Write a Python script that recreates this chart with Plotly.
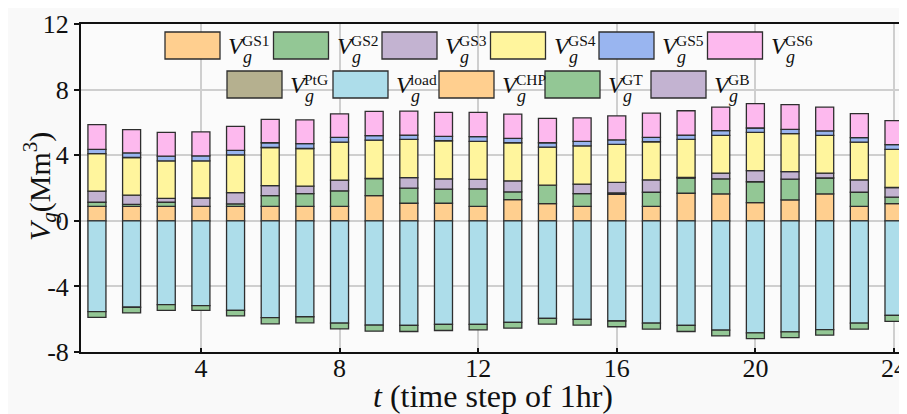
import plotly.graph_objects as go

t = list(range(1, 25))

GS1 = [0.88, 0.88, 0.88, 0.88, 0.88, 0.88, 0.88, 0.88, 1.54, 1.07, 1.07, 0.88,
       1.29, 1.05, 0.88, 1.62, 0.88, 1.68, 1.64, 1.11, 1.27, 1.64, 0.88, 1.05]
GS2 = [0.25, 0.12, 0.25, 0.0, 0.15, 0.66, 0.78, 0.95, 1.04, 0.92, 0.86, 1.07,
       0.47, 1.12, 0.78, 0.08, 0.86, 0.93, 0.92, 1.27, 1.27, 0.97, 0.86, 0.39]
GS3 = [0.68, 0.56, 0.24, 0.51, 0.69, 0.61, 0.45, 0.65, 0.0, 0.64, 0.63, 0.57,
       0.68, 0.0, 0.58, 0.64, 0.76, 0.04, 0.35, 0.68, 0.46, 0.30, 0.76, 0.59]
GS4 = [2.29, 2.30, 2.28, 2.26, 2.30, 2.32, 2.30, 2.32, 2.34, 2.33, 2.32, 2.32,
       2.32, 2.32, 2.33, 2.32, 2.32, 2.31, 2.30, 2.33, 2.31, 2.30, 2.30, 2.32]
GS5 = [0.25, 0.28, 0.29, 0.31, 0.27, 0.29, 0.29, 0.29, 0.27, 0.27, 0.27, 0.29,
       0.27, 0.27, 0.27, 0.28, 0.27, 0.27, 0.29, 0.27, 0.27, 0.27, 0.27, 0.29]
GS6 = [1.52, 1.42, 1.45, 1.46, 1.47, 1.43, 1.45, 1.43, 1.48, 1.46, 1.46, 1.48,
       1.47, 1.48, 1.44, 1.46, 1.47, 1.48, 1.43, 1.48, 1.50, 1.45, 1.47, 1.47]
PtG = [0.0] * 24
LOAD = [-5.54, -5.27, -5.11, -5.17, -5.46, -5.91, -5.85, -6.24, -6.36, -6.38, -6.32, -6.32,
        -6.19, -5.95, -6.01, -6.11, -6.24, -6.38, -6.67, -6.83, -6.77, -6.63, -6.24, -5.77]
CHP = [0.0] * 24
GT = [-0.35, -0.35, -0.35, -0.29, -0.34, -0.37, -0.37, -0.35, -0.37, -0.37, -0.37, -0.33,
      -0.35, -0.35, -0.35, -0.35, -0.37, -0.37, -0.35, -0.35, -0.35, -0.34, -0.37, -0.36]
GB = [0.0] * 24

x_ticks = [4, 8, 12, 16, 20, 24]
y_ticks = [-8, -4, 0, 4, 8, 12]

C_ORANGE = "#FFCF8F"
C_GREEN = "#93C795"
C_PURPLE = "#C3B3D1"
C_YELLOW = "#FFF59D"
C_BLUE = "#99B5F0"
C_PINK = "#FDB9EE"
C_OLIVE = "#B5B08F"
C_LBLUE = "#ADDDEA"

series = [
    ("GS1", GS1, C_ORANGE), ("GS2", GS2, C_GREEN), ("GS3", GS3, C_PURPLE),
    ("GS4", GS4, C_YELLOW), ("GS5", GS5, C_BLUE), ("GS6", GS6, C_PINK),
    ("PtG", PtG, C_OLIVE), ("load", LOAD, C_LBLUE), ("CHP", CHP, C_ORANGE),
    ("GT", GT, C_GREEN), ("GB", GB, C_PURPLE),
]

FONT = "Liberation Serif, Times New Roman, serif"
EDGE = "#2e2e2e"

fig = go.Figure()
for name, vals, col in series:
    fig.add_trace(go.Bar(
        x=t, y=[v if v != 0 else None for v in vals], name=name,
        width=0.52, marker=dict(color=col, line=dict(color=EDGE, width=1.3)),
        showlegend=False,
    ))

# page body has an 8px margin: the figure starts at (8, 8) in the window
OFF = 8
W, H = 907 - OFF, 414 - OFF
# plot-area edges, in window pixels
L, R, T, B = 81, 907, 24, 352


def px(xp):
    return (xp - L) / (R - L)


def py(yp):
    return (B - yp) / (B - T)


shapes = []
annotations = []
rows = [
    (series[0:6], 165, 108.5, 32),
    (series[6:11], 227, 106.0, 71),
]
for items, x0, step, ytop in rows:
    for i, (name, _, col) in enumerate(items):
        sx = x0 + step * i
        shapes.append(dict(type="rect", xref="paper", yref="paper",
                           x0=px(sx), x1=px(sx + 55), y0=py(ytop + 27), y1=py(ytop),
                           fillcolor=col, line=dict(color=EDGE, width=1.3), layer="above"))
        annotations.append(dict(xref="paper", yref="paper", x=px(sx + 61), y=py(ytop + 14),
                                text="<i>V</i>", showarrow=False, xanchor="left", yanchor="middle",
                                font=dict(family=FONT, size=24, color="#111")))
        annotations.append(dict(xref="paper", yref="paper", x=px(sx + 75), y=py(ytop + 8),
                                text=name, showarrow=False, xanchor="left", yanchor="middle",
                                font=dict(family=FONT, size=15.5, color="#111")))
        annotations.append(dict(xref="paper", yref="paper", x=px(sx + 76), y=py(ytop + 25),
                                text="<i>g</i>", showarrow=False, xanchor="left", yanchor="middle",
                                font=dict(family=FONT, size=18, color="#111")))

annotations.append(dict(xref="paper", yref="paper", x=px(39), y=py(187), textangle=-90,
                        text="<i>V</i><sub><i>g</i></sub>(Mm<sup>3</sup>)", showarrow=False,
                        xanchor="center", yanchor="middle",
                        font=dict(family=FONT, size=30, color="#111")))
annotations.append(dict(xref="paper", yref="paper", x=px(493), y=py(396),
                        text="<i>t</i> (time step of 1hr)", showarrow=False,
                        xanchor="center", yanchor="middle",
                        font=dict(family=FONT, size=32, color="#111")))

fig.update_layout(
    width=W, height=H,
    margin=dict(l=L - OFF, r=(W + OFF) - R, t=T - OFF, b=(H + OFF) - B),
    barmode="relative",
    paper_bgcolor="#f9f9f9",
    plot_bgcolor="#fbfbfb",
    font=dict(family=FONT, color="#111"),
    shapes=shapes,
    annotations=annotations,
    showlegend=False,
)
fig.update_xaxes(
    range=[0.54, 24.375], tickvals=x_ticks, ticktext=[str(v) for v in x_ticks],
    showgrid=True, gridcolor="#cfcfcf", gridwidth=2,
    showline=True, linecolor="#111", linewidth=2, mirror=True,
    ticks="inside", ticklen=4, tickcolor="#111", tickwidth=2,
    tickfont=dict(family=FONT, size=26, color="#111"),
    ticklabeloverflow="allow", ticklabelstandoff=-8,
    zeroline=False,
)
fig.update_yaxes(
    range=[-8, 12], tickvals=y_ticks, ticktext=[str(v) for v in y_ticks],
    showgrid=True, gridcolor="#cfcfcf", gridwidth=2,
    showline=True, linecolor="#111", linewidth=2, mirror=False,
    ticks="outside", ticklen=5, tickcolor="#111", tickwidth=1.5,
    tickfont=dict(family=FONT, size=26, color="#111"),
    zeroline=False,
)

fig.write_html("out.html")
